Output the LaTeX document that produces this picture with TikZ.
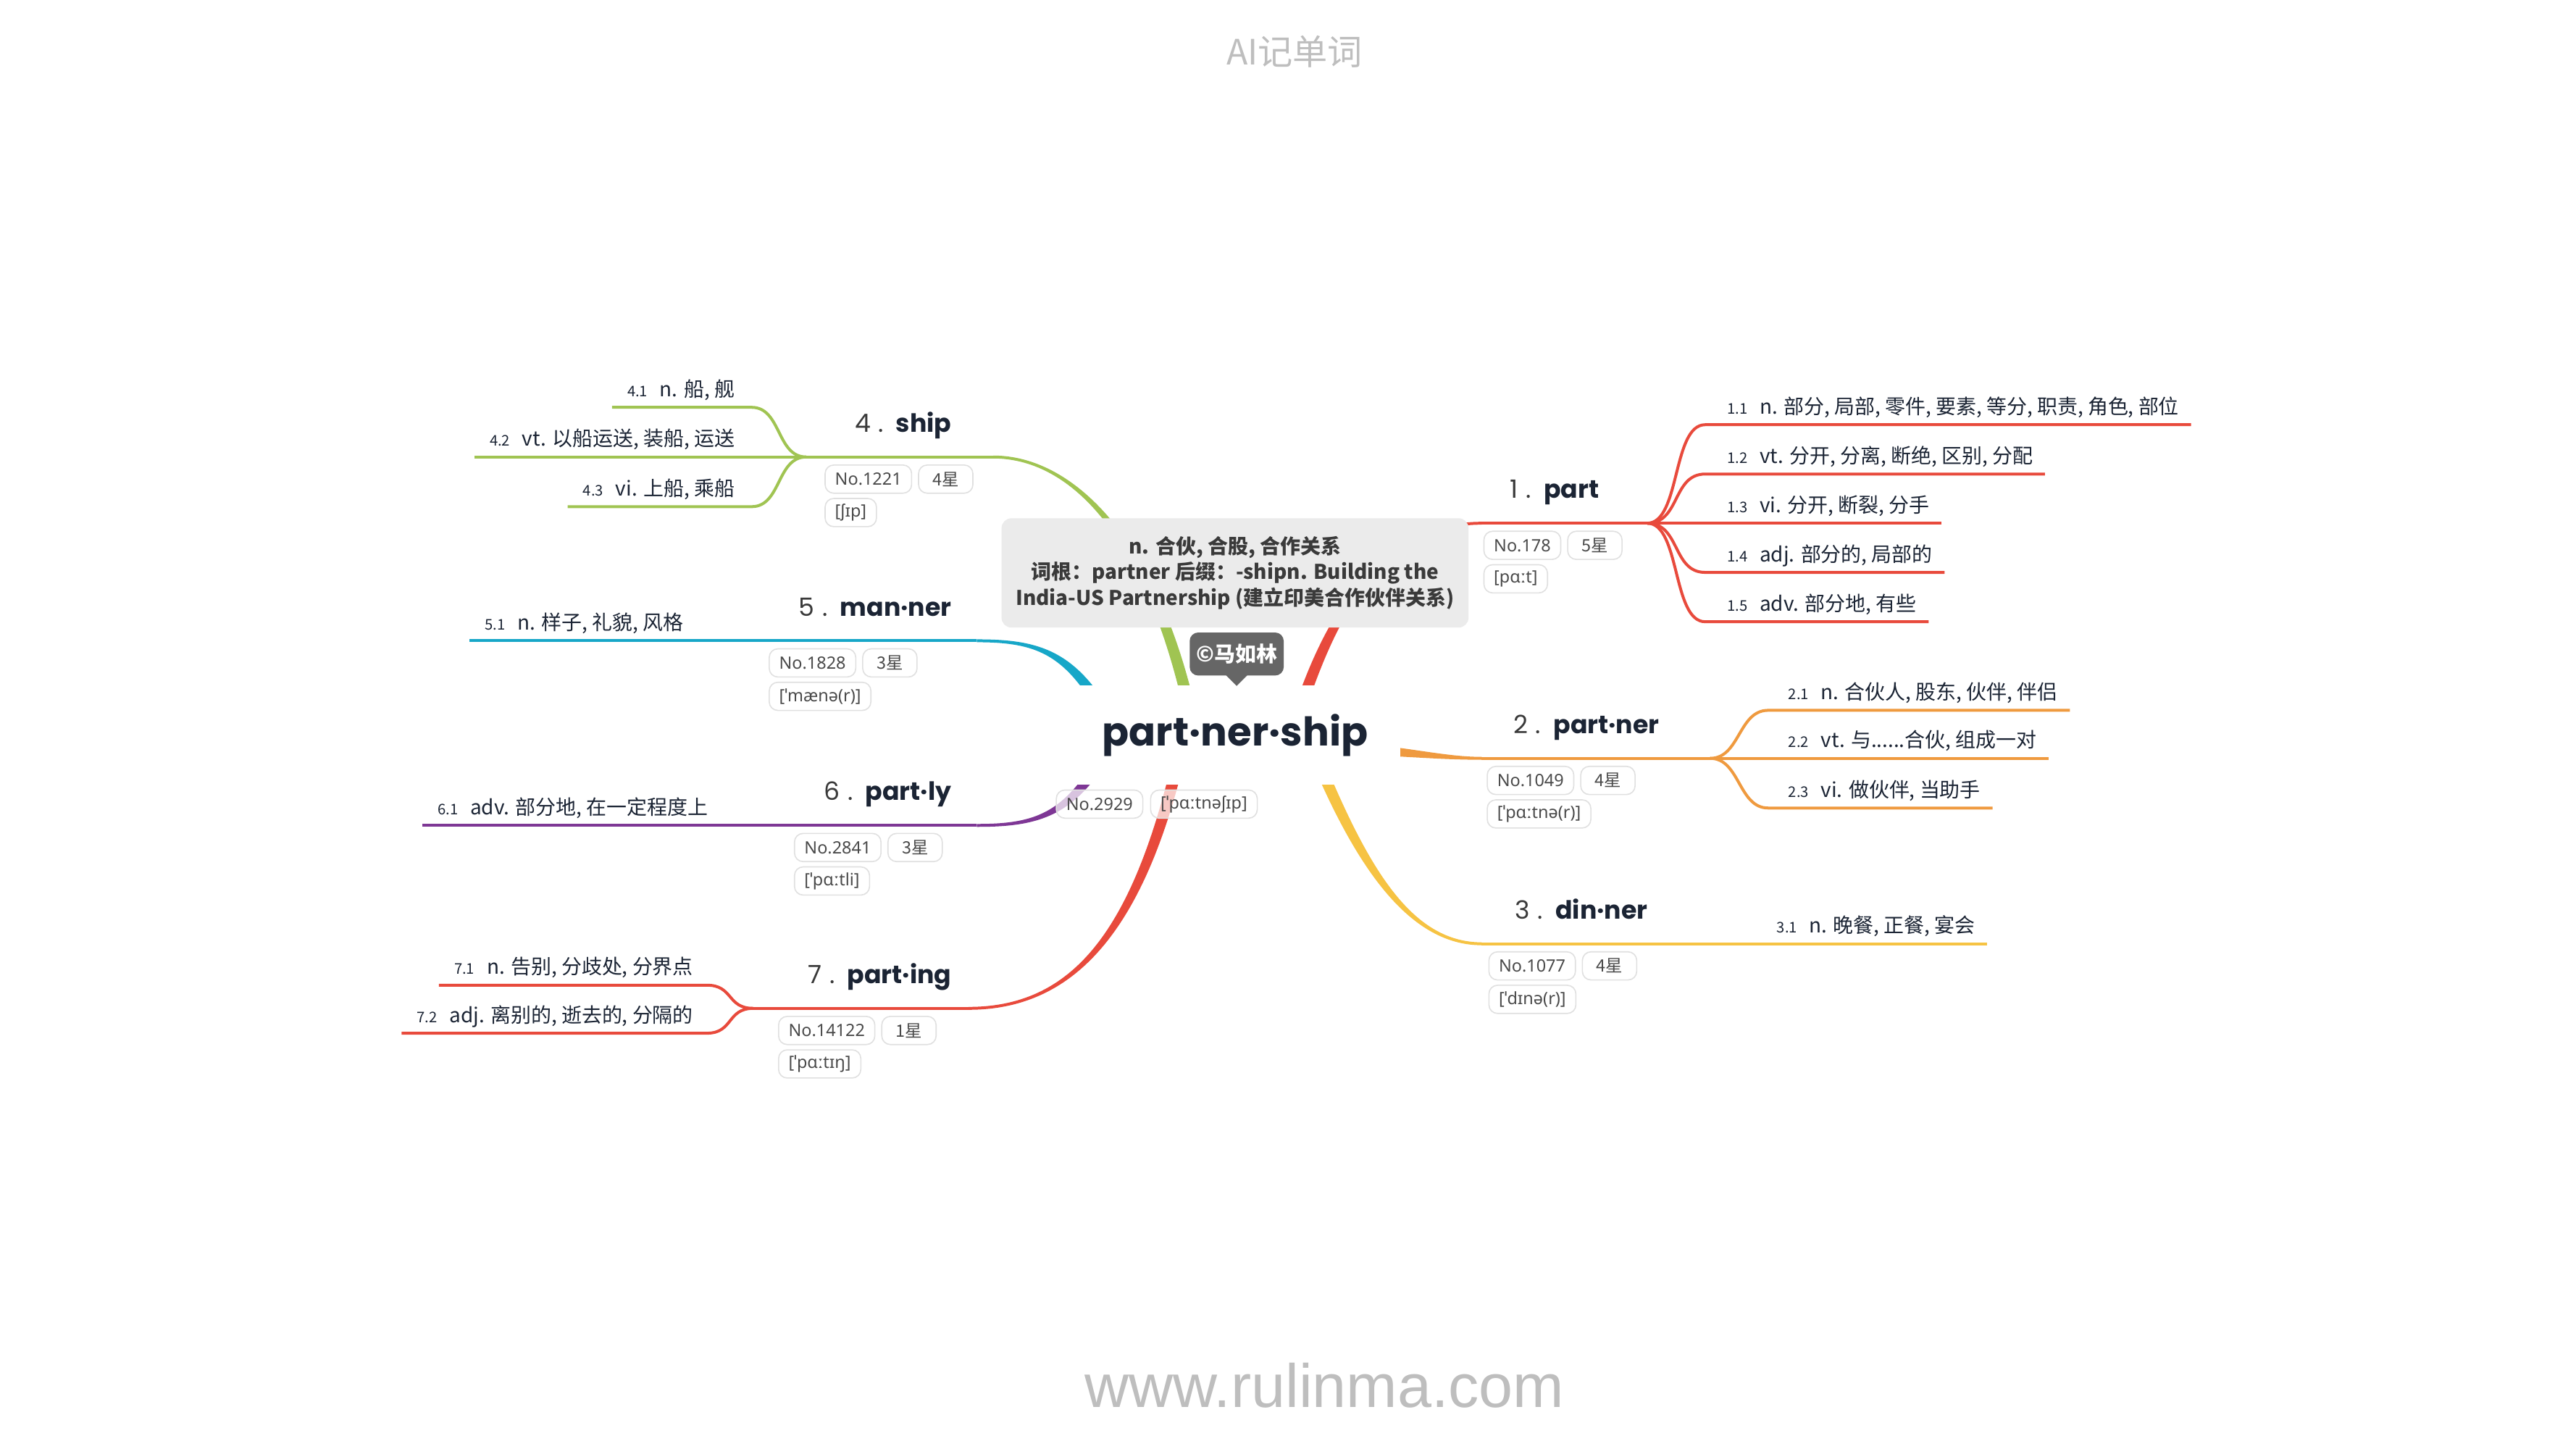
\documentclass[tikz,border=0pt]{standalone}
\usepackage{fontspec}
\setmainfont{Noto Sans CJK SC}
\newfontfamily\headfont{Poppins}
\newfontfamily\ipafont{Noto Sans}
\newfontfamily\urlfont{Liberation Sans}
\usetikzlibrary{calc,positioning}
\definecolor{limbred}{HTML}{E84A3C}
\definecolor{limborange}{HTML}{EF9A3F}
\definecolor{limbyellow}{HTML}{F6C343}
\definecolor{limbgreen}{HTML}{A0C452}
\definecolor{limbcyan}{HTML}{17A7C8}
\definecolor{limbpurple}{HTML}{7E3795}
\definecolor{inkdark}{HTML}{1B2434}
\definecolor{numgray}{HTML}{3A3A3A}
\definecolor{notegray}{HTML}{EBEBEB}
\definecolor{signgray}{HTML}{666666}
\definecolor{tagline}{HTML}{E0E0E0}
\definecolor{tagtext}{HTML}{4A4A4A}
\definecolor{watermark}{HTML}{BEBEBE}

% tapered limb from the root: colour, start, ctrl 1, ctrl 2, end
\newcommand{\limb}[5]{%
  \path ($(#2)!2.5pt!90:(#3)$) coordinate (sL) ($(#2)!2.5pt!-90:(#3)$) coordinate (sR)
        ($(#5)!0.62pt!-90:(#4)$) coordinate (eL) ($(#5)!0.62pt!90:(#4)$) coordinate (eR);
  \fill[#1] (sL) .. controls ($(#3)+(sL)-(#2)$) and ($(#4)+(eL)-(#5)$) .. (eL)
    -- (eR) .. controls ($(#4)+(eR)-(#5)$) and ($(#3)+(sR)-(#2)$) .. (sR) -- cycle;}
\newcommand{\head}[2]{{\headfont\fontsize{10.8}{13}\selectfont\color{numgray}#1\hspace{0.3em}.\hspace{0.5em}\color{inkdark}\bfseries #2}}
\newcommand{\sense}[2]{{\fontsize{6.3}{7}\selectfont #1}\hspace{0.6em}#2}

\begin{document}
\begin{tikzpicture}[x=0.025cm, y=-0.025cm,
  every node/.style={inner sep=0pt, text=inkdark},
  root/.style={fill=white, minimum width=5cm, minimum height=1.5cm, font=\headfont\bfseries\fontsize{17}{20}\selectfont},
  note/.style={fill=notegray, rounded corners=0.15cm, minimum width=7.05cm, minimum height=1.65cm,
    align=center, text=numgray, font=\bfseries\fontsize{8.7}{11.1}\selectfont},
  sign/.style={fill=signgray, rounded corners=0.13cm, minimum width=1.42cm, minimum height=0.65cm,
    text=white, font=\bfseries\fontsize{9}{10}\selectfont},
  tagbox/.style={draw=tagline, line width=0.5pt, fill=white, fill opacity=0.7, text opacity=1,
    rounded corners=0.13cm, minimum height=0.425cm, inner xsep=0.15cm, text=tagtext,
    font=\ipafont\fontsize{7.3}{8}\selectfont},
  startag/.style={minimum width=0.82cm, font=\fontsize{7.3}{8}\selectfont},
  senselab/.style={font=\fontsize{8.7}{10}\selectfont},
  twig/.style={line width=1.25pt},
]
\fill[white] (0,0) rectangle (1556,875);
\useasboundingbox (0,0) rectangle (1556,875);

\node[font=\fontsize{15}{16}\selectfont, text=watermark] (title) at (782,31) {AI记单词};
\node[font=\urlfont\fontsize{26.3}{28}\selectfont, text=watermark, anchor=base] (site) at (800,850) {www.rulinma.com};

% --- limbs out of the root ---
\coordinate (p1s) at (780,445); \coordinate (p1a) at (805,360);
\coordinate (p1b) at (840,316); \coordinate (p1e) at (895,316);
\limb{limbred}{p1s}{p1a}{p1b}{p1e}
\coordinate (p2s) at (800,451); \coordinate (p2a) at (845,453);
\coordinate (p2b) at (870,458); \coordinate (p2e) at (895,458);
\limb{limborange}{p2s}{p2a}{p2b}{p2e}
\coordinate (p3s) at (790,445); \coordinate (p3a) at (820,520);
\coordinate (p3b) at (850,570); \coordinate (p3e) at (895,570);
\limb{limbyellow}{p3s}{p3a}{p3b}{p3e}
\coordinate (p4s) at (722,445); \coordinate (p4a) at (700,330);
\coordinate (p4b) at (650,276); \coordinate (p4e) at (600,276);
\limb{limbgreen}{p4s}{p4a}{p4b}{p4e}
\coordinate (p5s) at (675,445); \coordinate (p5a) at (650,395);
\coordinate (p5b) at (630,387); \coordinate (p5e) at (590,387);
\limb{limbcyan}{p5s}{p5a}{p5b}{p5e}
\coordinate (p6s) at (675,441); \coordinate (p6a) at (650,491);
\coordinate (p6b) at (630,498.5); \coordinate (p6e) at (590,498.5);
\limb{limbpurple}{p6s}{p6a}{p6b}{p6e}
\coordinate (p7s) at (715,445); \coordinate (p7a) at (690,560);
\coordinate (p7b) at (650,609); \coordinate (p7e) at (585,609);
\limb{limbred}{p7s}{p7a}{p7b}{p7e}

% --- root word ---
\node[root] (root) at (746,444) {part·ner·ship};
\node[tagbox, anchor=north west] (rootno) at ($(root.south west)+(-8,2.5)$) {No.2929};
\node[tagbox, anchor=west] (rootipa) at ($(rootno.east)+(4,0)$) {[ˈpɑːtnəʃɪp]};

\node[note] (desc) at (746,346) {n. 合伙, 合股, 合作关系\\词根：partner 后缀：-shipn. Building the\\India-US Partnership (建立印美合作伙伴关系)};
\node[sign] (sign) at (747,395) {©马如林};
\fill[signgray] ($(sign.south)+(-7,-1)$) -- ($(sign.south)+(7,-1)$) -- ($(sign.south)+(0,6)$) -- cycle;

% --- 1. part ---
\coordinate (j1) at (995,316);
\draw[twig, limbred] (p1e) -- (j1);
\node[anchor=base west] (h1) at (912,301) {\head{1}{part}};
\node[tagbox, anchor=north west] (n1) at ($(h1.west |- p1e)+(-16,4.5)$) {No.178};
\node[tagbox, startag, anchor=west] (r1) at ($(n1.east)+(3.5,0)$) {5星};
\node[tagbox, anchor=north west] (i1) at ($(n1.south west)+(0,2.5)$) {[pɑːt]};
\coordinate (s11) at (1030,256.5);
\node[senselab, anchor=base west] (t11) at ($(s11)+(13,-6.5)$) {\sense{1.1}{n. 部分, 局部, 零件, 要素, 等分, 职责, 角色, 部位}};
\draw[twig, limbred] (j1) .. controls +(20,0) and +(-20,0) .. (s11) -- ($(t11.east |- s11)+(7,0)$);
\coordinate (s12) at (1030,286.3);
\node[senselab, anchor=base west] (t12) at ($(s12)+(13,-6.5)$) {\sense{1.2}{vt. 分开, 分离, 断绝, 区别, 分配}};
\draw[twig, limbred] (j1) .. controls +(20,0) and +(-20,0) .. (s12) -- ($(t12.east |- s12)+(7,0)$);
\coordinate (s13) at (1030,316);
\node[senselab, anchor=base west] (t13) at ($(s13)+(13,-6.5)$) {\sense{1.3}{vi. 分开, 断裂, 分手}};
\draw[twig, limbred] (j1) -- (s13) -- ($(t13.east |- s13)+(7,0)$);
\coordinate (s14) at (1030,345.7);
\node[senselab, anchor=base west] (t14) at ($(s14)+(13,-6.5)$) {\sense{1.4}{adj. 部分的, 局部的}};
\draw[twig, limbred] (j1) .. controls +(20,0) and +(-20,0) .. (s14) -- ($(t14.east |- s14)+(7,0)$);
\coordinate (s15) at (1030,375.5);
\node[senselab, anchor=base west] (t15) at ($(s15)+(13,-6.5)$) {\sense{1.5}{adv. 部分地, 有些}};
\draw[twig, limbred] (j1) .. controls +(20,0) and +(-20,0) .. (s15) -- ($(t15.east |- s15)+(7,0)$);

% --- 2. partner ---
\coordinate (j2) at (1033,458);
\draw[twig, limborange] (p2e) -- (j2);
\node[anchor=base west] (h2) at (914,443) {\head{2}{part·ner}};
\node[tagbox, anchor=north west] (n2) at ($(h2.west |- p2e)+(-16,4.5)$) {No.1049};
\node[tagbox, startag, anchor=west] (r2) at ($(n2.east)+(3.5,0)$) {4星};
\node[tagbox, anchor=north west] (i2) at ($(n2.south west)+(0,2.5)$) {[ˈpɑːtnə(r)]};
\coordinate (s21) at (1068,429);
\node[senselab, anchor=base west] (t21) at ($(s21)+(12,-6.5)$) {\sense{2.1}{n. 合伙人, 股东, 伙伴, 伴侣}};
\draw[twig, limborange] (j2) .. controls +(18,0) and +(-18,0) .. (s21) -- ($(t21.east |- s21)+(7,0)$);
\coordinate (s22) at (1068,458);
\node[senselab, anchor=base west] (t22) at ($(s22)+(12,-6.5)$) {\sense{2.2}{vt. 与......合伙, 组成一对}};
\draw[twig, limborange] (j2) -- (s22) -- ($(t22.east |- s22)+(7,0)$);
\coordinate (s23) at (1068,488);
\node[senselab, anchor=base west] (t23) at ($(s23)+(12,-6.5)$) {\sense{2.3}{vi. 做伙伴, 当助手}};
\draw[twig, limborange] (j2) .. controls +(18,0) and +(-18,0) .. (s23) -- ($(t23.east |- s23)+(7,0)$);

% --- 3. dinner ---
\node[anchor=base west] (h3) at (915,555) {\head{3}{din·ner}};
\node[tagbox, anchor=north west] (n3) at ($(h3.west |- p3e)+(-16,4.5)$) {No.1077};
\node[tagbox, startag, anchor=west] (r3) at ($(n3.east)+(3.5,0)$) {4星};
\node[tagbox, anchor=north west] (i3) at ($(n3.south west)+(0,2.5)$) {[ˈdɪnə(r)]};
\node[senselab, anchor=base west] (t31) at (1073,563.5) {\sense{3.1}{n. 晚餐, 正餐, 宴会}};
\draw[twig, limbyellow] (p3e) -- ($(t31.east |- p3e)+(7,0)$);

% --- 4. ship ---
\coordinate (j4) at (487,276);
\draw[twig, limbgreen] (p4e) -- (j4);
\node[anchor=base east] (h4) at (575,261) {\head{4}{ship}};
\node[tagbox, anchor=north west] (n4) at ($(h4.west |- p4e)+(-18,4.5)$) {No.1221};
\node[tagbox, startag, anchor=west] (r4) at ($(n4.east)+(3.5,0)$) {4星};
\node[tagbox, anchor=north west] (i4) at ($(n4.south west)+(0,2.5)$) {[ʃɪp]};
\coordinate (s41) at (454,246);
\node[senselab, anchor=base east] (t41) at ($(s41)+(-10,-6.5)$) {\sense{4.1}{n. 船, 舰}};
\draw[twig, limbgreen] (j4) .. controls +(-18,0) and +(18,0) .. (s41) -- ($(t41.west |- s41)+(-9,0)$);
\coordinate (s42) at (454,276);
\node[senselab, anchor=base east] (t42) at ($(s42)+(-10,-6.5)$) {\sense{4.2}{vt. 以船运送, 装船, 运送}};
\draw[twig, limbgreen] (j4) -- (s42) -- ($(t42.west |- s42)+(-9,0)$);
\coordinate (s43) at (454,306);
\node[senselab, anchor=base east] (t43) at ($(s43)+(-10,-6.5)$) {\sense{4.3}{vi. 上船, 乘船}};
\draw[twig, limbgreen] (j4) .. controls +(-18,0) and +(18,0) .. (s43) -- ($(t43.west |- s43)+(-9,0)$);

% --- 5. manner ---
\node[anchor=base east] (h5) at (575,372) {\head{5}{man·ner}};
\node[tagbox, anchor=north west] (n5) at ($(h5.west |- p5e)+(-18,4.5)$) {No.1828};
\node[tagbox, startag, anchor=west] (r5) at ($(n5.east)+(3.5,0)$) {3星};
\node[tagbox, anchor=north west] (i5) at ($(n5.south west)+(0,2.5)$) {[ˈmænə(r)]};
\node[senselab, anchor=base east] (t51) at (413,380.5) {\sense{5.1}{n. 样子, 礼貌, 风格}};
\draw[twig, limbcyan] (p5e) -- ($(t51.west |- p5e)+(-9,0)$);

% --- 6. partly ---
\node[anchor=base east] (h6) at (575,483.5) {\head{6}{part·ly}};
\node[tagbox, anchor=north west] (n6) at ($(h6.west |- p6e)+(-18,4.5)$) {No.2841};
\node[tagbox, startag, anchor=west] (r6) at ($(n6.east)+(3.5,0)$) {3星};
\node[tagbox, anchor=north west] (i6) at ($(n6.south west)+(0,2.5)$) {[ˈpɑːtli]};
\node[senselab, anchor=base east] (t61) at (428,492) {\sense{6.1}{adv. 部分地, 在一定程度上}};
\draw[twig, limbpurple] (p6e) -- ($(t61.west |- p6e)+(-9,0)$);

% --- 7. parting ---
\coordinate (j7) at (455,609);
\draw[twig, limbred] (p7e) -- (j7);
\node[anchor=base east] (h7) at (575,594) {\head{7}{part·ing}};
\node[tagbox, anchor=north west] (n7) at ($(h7.west |- p7e)+(-18,4.5)$) {No.14122};
\node[tagbox, startag, anchor=west] (r7) at ($(n7.east)+(3.5,0)$) {1星};
\node[tagbox, anchor=north west] (i7) at ($(n7.south west)+(0,2.5)$) {[ˈpɑːtɪŋ]};
\coordinate (s71) at (427,595);
\node[senselab, anchor=base east] (t71) at ($(s71)+(-8,-6.5)$) {\sense{7.1}{n. 告别, 分歧处, 分界点}};
\draw[twig, limbred] (j7) .. controls +(-16,0) and +(16,0) .. (s71) -- ($(t71.west |- s71)+(-9,0)$);
\coordinate (s72) at (427,624);
\node[senselab, anchor=base east] (t72) at ($(s72)+(-8,-6.5)$) {\sense{7.2}{adj. 离别的, 逝去的, 分隔的}};
\draw[twig, limbred] (j7) .. controls +(-16,0) and +(16,0) .. (s72) -- ($(t72.west |- s72)+(-9,0)$);

\end{tikzpicture}
\end{document}
